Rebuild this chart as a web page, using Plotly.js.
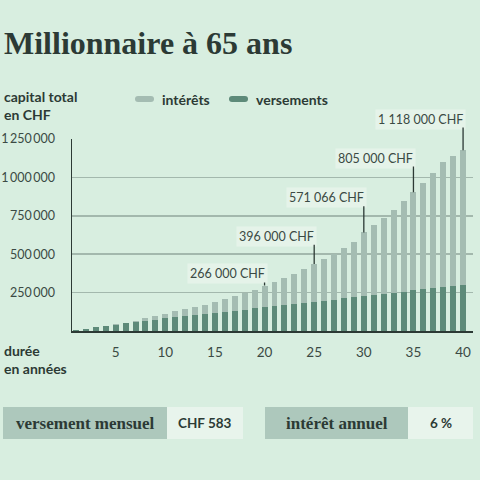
<!DOCTYPE html>
<html>
<head>
<meta charset="utf-8">
<script src="https://cdn.plot.ly/plotly-3.0.1.min.js"></script>
<style>
html,body{margin:0;padding:0;background:#d8eee0;}
#chart{width:480px;height:480px;}
</style>
</head>
<body>
<div id="chart"></div>
<script>
// ---- data ----
const years = [1,2,3,4,5,6,7,8,9,10,11,12,13,14,15,16,17,18,19,20,21,22,23,24,25,26,27,28,29,30,31,32,33,34,35,36,37,38,39,40];
const versements = [9000,16000,24000,32000,42000,50000,58000,66000,74000,82000,89000,96000,103000,110000,117000,125000,133000,140000,148000,156000,163000,170000,177000,184000,191000,198000,205000,213000,221000,229000,236000,243000,250000,257000,265000,271000,278000,286000,293000,302000];
const interets = [0,0,1000,2000,3000,5000,10000,17000,25000,31000,38000,45000,54000,62000,72000,81000,93000,110000,122000,140000,156000,175000,197000,220000,246000,269000,295000,327000,358000,413000,452000,493000,540000,587000,638000,695000,751000,814000,849000,874000];
const yTickVals = [250000,500000,750000,1000000,1250000];
const yTickText = ['250\u2009000','500\u2009000','750\u2009000','1\u2009000\u2009000','1\u2009250\u2009000'];
const xTickVals = [5,10,15,20,25,30,35,40];
const calloutYears = [20,25,30,35,40];
const calloutLabels = ['266 000 CHF','396 000 CHF','571 066 CHF','805 000 CHF','1 118 000 CHF'];
const calloutLabelY = [372000,618000,868000,1126000,1380000];
const paramLabels = ['versement mensuel','intérêt annuel'];
const paramValues = ['CHF 583','6 %'];

// ---- colors / fonts ----
const BG = '#d8eee0';
const LIGHT = '#a4bcb2';
const DARK = '#5d8a79';
const INK = '#2c3a35';
const SANS = 'Lato, "Open Sans", sans-serif';
const SERIF = '"Liberation Serif", "DejaVu Serif", serif';
const YMAX = 1250000;

const totals = years.map((y,i)=>versements[i]+interets[i]);

const traces = [
  {type:'bar', x:years, y:versements, name:'versements', marker:{color:DARK}, hoverinfo:'skip'},
  {type:'bar', x:years, y:interets, name:'intérêts', marker:{color:LIGHT}, hoverinfo:'skip'}
];

const W=480,H=480;
const annotations = [];
const shapes = [];

// paper coords helpers relative to the plot area
const L=72,R=7,T=139,B=149;
const pw = W-L-R, ph = H-T-B;
const PX = x => (x-L)/pw;
const PY = y => (H-B-y)/ph;

// callouts
calloutYears.forEach((yr,k)=>{
  const i = years.indexOf(yr);
  annotations.push({
    x:yr, y:calloutLabelY[k]/YMAX, xref:'x', yref:'paper', text:calloutLabels[k],
    showarrow:false, xanchor:'right', yanchor:'middle', xshift:3,
    font:{family:SANS,size:12.5,color:'#3b4a44'},
    bgcolor:'#e5f3e9', borderpad:2
  });
  annotations.push({
    x:yr, y:totals[i], xref:'x', yref:'y', text:'',
    showarrow:true, arrowhead:0, arrowwidth:1.3, arrowcolor:INK,
    axref:'x', ax:yr, ayref:'y', ay:calloutLabelY[k]-46000
  });
});

// title
annotations.push({xref:'paper',yref:'paper',x:PX(2),y:PY(43),xanchor:'left',yanchor:'middle',
  text:'<b>Millionnaire à 65 ans</b>',showarrow:false,font:{family:SERIF,size:32,color:INK}});
// y axis title
annotations.push({xref:'paper',yref:'paper',x:PX(2),y:PY(105),xanchor:'left',yanchor:'middle',align:'left',
  text:'<b>capital total<br>en CHF</b>',showarrow:false,font:{family:SANS,size:14,color:INK}});
// x axis title
annotations.push({xref:'paper',yref:'paper',x:PX(2),y:PY(359),xanchor:'left',yanchor:'middle',align:'left',
  text:'<b>durée<br>en années</b>',showarrow:false,font:{family:SANS,size:14,color:INK}});

// legend (manual)
const legendItems = [{name:'intérêts',color:LIGHT,x0:135,tx:160},{name:'versements',color:DARK,x0:229,tx:254}];
legendItems.forEach(it=>{
  shapes.push({type:'path',xref:'paper',yref:'paper',
    path:`M ${PX(it.x0+3)} ${PY(96)} L ${PX(it.x0+16)} ${PY(96)} Q ${PX(it.x0+19)} ${PY(96)} ${PX(it.x0+19)} ${PY(99)} Q ${PX(it.x0+19)} ${PY(102)} ${PX(it.x0+16)} ${PY(102)} L ${PX(it.x0+3)} ${PY(102)} Q ${PX(it.x0)} ${PY(102)} ${PX(it.x0)} ${PY(99)} Q ${PX(it.x0)} ${PY(96)} ${PX(it.x0+3)} ${PY(96)} Z`,
    fillcolor:it.color,line:{width:0}});
  annotations.push({xref:'paper',yref:'paper',x:PX(it.tx),y:PY(99),xanchor:'left',yanchor:'middle',
    text:'<b>'+it.name+'</b>',showarrow:false,font:{family:SANS,size:14,color:INK}});
});

// parameter boxes
const boxes = [
  {lx0:3,lx1:167,vx1:243},
  {lx0:265,lx1:408,vx1:473}
];
boxes.forEach((b,k)=>{
  shapes.push({type:'rect',xref:'paper',yref:'paper',x0:PX(b.lx0),x1:PX(b.lx1),y0:PY(439),y1:PY(407),fillcolor:'#adc8bc',line:{width:0}});
  shapes.push({type:'rect',xref:'paper',yref:'paper',x0:PX(b.lx1),x1:PX(b.vx1),y0:PY(439),y1:PY(407),fillcolor:'#e8f4ec',line:{width:0}});
  annotations.push({xref:'paper',yref:'paper',x:PX((b.lx0+b.lx1)/2),y:PY(423),xanchor:'center',yanchor:'middle',
    text:'<b>'+paramLabels[k]+'</b>',showarrow:false,font:{family:SERIF,size:17,color:INK}});
  annotations.push({xref:'paper',yref:'paper',x:PX((b.lx1+b.vx1)/2),y:PY(423),xanchor:'center',yanchor:'middle',
    text:'<b>'+paramValues[k]+'</b>',showarrow:false,font:{family:SANS,size:13.5,color:INK}});
});

const layout = {
  width:W,height:H,
  paper_bgcolor:BG, plot_bgcolor:BG,
  margin:{l:L,r:R,t:T,b:B,pad:0},
  barmode:'stack', bargap:0.4,
  showlegend:false,
  font:{family:SANS,color:INK},
  xaxis:{range:[0.6,41],tickvals:xTickVals,ticks:'',showgrid:false,zeroline:false,
    showline:true,linecolor:INK,linewidth:2,ticklabelstandoff:8,
    tickfont:{family:SANS,size:13.5,color:'#3b4a44'},fixedrange:true},
  yaxis:{range:[0,YMAX],tickvals:yTickVals,ticktext:yTickText,ticks:'',
    showgrid:true,gridcolor:'#a3b8ad',gridwidth:1.5,zeroline:false,
    showline:true,linecolor:INK,linewidth:1.5,ticklabelstandoff:13,
    tickfont:{family:SANS,size:12.5,color:'#3b4a44'},fixedrange:true},
  annotations:annotations,
  shapes:shapes
};

Plotly.newPlot('chart',traces,layout,{displayModeBar:false,staticPlot:true});
</script>
</body>
</html>
